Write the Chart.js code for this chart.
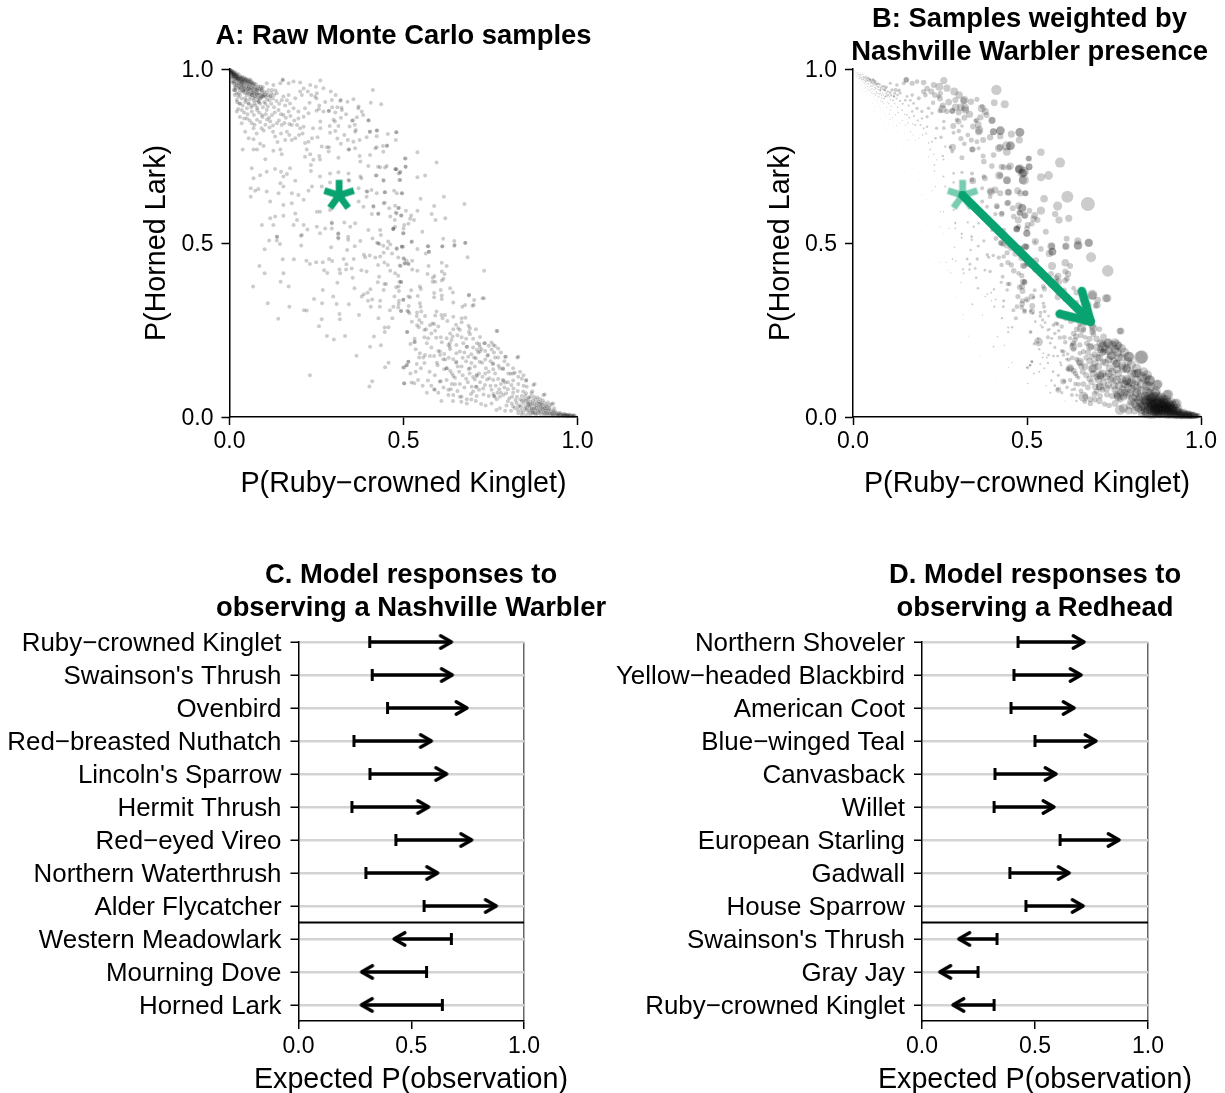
<!DOCTYPE html>
<html>
<head>
<meta charset="utf-8">
<script src="https://cdn.jsdelivr.net/npm/chart.js@4/dist/chart.umd.js"></script>
<style>
html, body { margin: 0; background: #fff; overflow: hidden; }
#page { position: relative; width: 1225px; height: 1093px; overflow: hidden; }
canvas { position: absolute; }
</style>
</head>
<body>
<div id="page">
  <canvas id="panelA"></canvas>
  <canvas id="panelB"></canvas>
  <canvas id="panelC"></canvas>
  <canvas id="panelD"></canvas>
</div>
<script>
// each sample: P(Ruby-crowned Kinglet), P(Horned Lark), Nashville Warbler weight
const samplesCorner = [
[.003,.997,3],[.006,.992,3],[.01,.99,4],[.012,.985,4],[.015,.985,5],[.02,.98,5],[.006,.985,3],[.01,.975,3],[.015,.972,4],[.018,.965,3],
[.022,.975,6],[.025,.968,5],[.028,.96,4],[.03,.97,7],[.035,.962,6],[.038,.955,5],[.04,.965,8],[.045,.958,7],[.048,.948,5],[.05,.96,8],
[.055,.95,7],[.058,.942,5],[.06,.955,9],[.065,.945,8],[.068,.935,5],[.07,.95,10],[.075,.94,8],[.078,.93,6],[.08,.945,11],[.085,.93,7],
[.088,.925,7],[.09,.94,12],[.095,.93,9],[.098,.92,7],[.1,.935,12],[.105,.92,8],[.01,.96,2],[.015,.95,2],[.02,.955,3],[.025,.945,3],
[.03,.94,3],[.035,.935,3],[.04,.945,4],[.045,.93,3],[.05,.925,3],[.055,.935,5],[.06,.92,4],[.065,.925,5],[.07,.91,4],[.075,.92,6],
[.08,.91,5],[.085,.905,5],[.09,.915,7],[.1,.905,6],[.012,.94,2],[.02,.93,2],[.025,.92,2],[.035,.915,2],[.045,.905,2],[.055,.9,3],
[.065,.895,3],[.075,.895,4],[.11,.925,12],[.115,.91,9],[.12,.93,15],[.125,.915,10],[.004,.99,3],[.008,.98,3],[.012,.992,4],[.018,.978,5],
[.024,.972,5],[.032,.958,5],[.036,.972,8],[.042,.95,5],[.052,.942,6],[.062,.94,7],[.072,.93,7],[.082,.925,8],[.092,.92,8],[.016,.94,2],
[.004,.994,3],[.007,.988,3],[.011,.982,4],[.014,.978,4],[.017,.984,5],[.02,.972,5],[.023,.982,6],[.026,.97,6],[.03,.975,7],[.033,.975,8],
[.036,.965,7],[.04,.972,9],[.043,.968,9],[.047,.972,11],[.05,.968,11],[.054,.962,10],[.057,.97,13],[.06,.962,11],[.064,.965,13],[.068,.958,12]
];
const samplesCoreExtra = [
[.002,.995,3],[.005,.99,3],[.007,.995,3],[.009,.985,3],[.011,.978,3],[.013,.988,4],[.016,.98,4],[.017,.99,5],[.019,.972,4],[.021,.985,6],
[.023,.978,5],[.026,.975,6],[.027,.985,8],[.029,.965,5],[.031,.978,7],[.033,.968,6],[.034,.955,4],[.037,.978,10],[.039,.968,7],[.041,.958,6],
[.043,.975,11],[.046,.965,8],[.049,.97,12],[.051,.952,7],[.053,.965,10],[.056,.958,9],[.059,.968,13],[.061,.948,7],[.063,.96,11],[.066,.955,10],
[.069,.942,7],[.071,.958,12],[.074,.948,9],[.076,.956,13],[.079,.938,8],[.083,.95,12],[.086,.942,10],[.089,.95,14],[.093,.938,11],[.096,.948,15],
[.005,.975,2],[.008,.965,2],[.012,.965,3],[.014,.958,3],[.018,.948,3],[.022,.958,4],[.026,.952,4],[.029,.948,4],[.033,.945,4],[.036,.948,5],
[.04,.938,4],[.044,.942,5],[.047,.938,5],[.052,.932,5],[.057,.928,5],[.062,.93,6],[.067,.932,6],[.072,.922,6],[.077,.928,7],[.082,.918,6],
[.087,.915,7],[.094,.922,9],[.102,.925,10],[.107,.932,14],[.112,.94,17],[.118,.922,12],[.122,.94,19],[.128,.925,13],[.132,.938,20],[.108,.912,8]
];
const samplesCloudExtra = [
[.015,.925,1],[.022,.905,1],[.03,.925,2],[.038,.895,2],[.048,.91,2],[.058,.912,3],[.062,.89,3],[.072,.902,4],[.08,.888,3],[.088,.9,5],
[.096,.89,5],[.103,.9,7],[.11,.892,7],[.12,.9,8],[.128,.89,8],[.135,.908,11],[.143,.9,11],[.15,.91,13],[.16,.895,11],[.165,.91,14],
[.025,.885,1],[.042,.875,2],[.052,.87,2],[.07,.868,3],[.085,.875,3],[.095,.862,4],[.104,.87,5],[.114,.86,5],[.13,.875,7],[.148,.87,8],
[.162,.86,9],[.175,.865,11],[.042,.858,1],[.058,.852,2],[.072,.84,2],[.088,.848,3],[.108,.855,5],[.125,.838,5],[.142,.852,6],[.158,.845,7],
[.172,.842,8],[.186,.852,11],[.03,.862,1],[.028,.9,1],[.115,.832,3],[.092,.83,3],[.125,.82,3],[.078,.815,2],[.148,.815,4],[.172,.81,5],
[.138,.79,3],[.2,.81,8],[.21,.815,9],[.24,.83,16],[.25,.88,26],[.258,.895,30],[.275,.905,34],[.295,.89,38],[.31,.89,38],[.32,.86,30],
[.335,.87,36],[.345,.835,30],[.36,.84,34],[.31,.8,26],[.32,.785,24],[.25,.915,30],[.225,.935,30],[.235,.925,28],[.27,.945,36],[.305,.925,38]
];
const samplesUpper = [
[.016,.94,2],[.026,.93,2],[.04,.935,3],[.055,.944,6],[.064,.925,5],[.079,.94,9],[.093,.944,12],[.107,.959,16],[.126,.954,18],[.146,.959,20],
[.153,.97,28],[.153,.968,26],[.17,.959,26],[.184,.964,24],[.203,.961,28],[.203,.935,26],[.213,.944,28],[.251,.93,26],[.246,.921,22],[.021,.911,2],
[.031,.901,2],[.045,.916,3],[.055,.901,3],[.069,.916,4],[.083,.906,5],[.098,.925,9],[.117,.921,11],[.136,.93,14],[.155,.921,14],[.17,.925,18],
[.174,.901,14],[.189,.916,20],[.208,.925,24],[.23,.903,22],[.217,.887,18],[.227,.873,16],[.021,.878,1],[.035,.882,2],[.05,.887,2],[.064,.878,3],
[.079,.882,3],[.093,.868,4],[.107,.882,6],[.122,.868,6],[.141,.882,9],[.155,.868,9],[.17,.878,12],[.184,.887,16],[.198,.878,16],[.213,.863,16],
[.198,.858,12],[.035,.844,1],[.05,.858,2],[.064,.844,2],[.079,.854,3],[.103,.84,3],[.117,.849,4],[.136,.844,5],[.15,.839,6],[.165,.82,6],
[.179,.839,10],[.194,.839,10],[.203,.83,10],[.189,.801,6],[.213,.834,12],[.045,.82,1],[.069,.83,2],[.098,.823,3],[.131,.806,3],[.16,.796,5],
[.179,.796,5],[.217,.787,8],[.227,.791,10],[.237,.801,13],[.253,.804,17],[.069,.798,1],[.088,.785,2],[.055,.801,1],[.261,.967,36],[.412,.94,52],
[.291,.935,40],[.248,.949,40],[.232,.954,30],[.294,.911,30],[.318,.909,34],[.339,.906,32],[.356,.913,26],[.406,.903,34],[.436,.899,40],[.27,.878,26],
[.285,.879,28],[.304,.875,30],[.323,.882,38],[.371,.892,24],[.38,.878,36],[.352,.851,22],[.366,.861,32],[.399,.852,34],[.261,.849,18],[.299,.854,24],
[.313,.836,18],[.261,.83,18],[.304,.822,22],[.289,.817,20],[.33,.81,24],[.361,.82,36],[.404,.82,34],[.423,.823,42],[.455,.813,36],[.479,.818,44],
[.34,.796,26],[.356,.791,24],[.342,.769,28],[.361,.772,20],[.374,.75,25],[.376,.734,28],[.404,.753,28],[.419,.772,38],[.441,.779,46],[.452,.779,42],
[.423,.807,32],[.394,.804,32],[.28,.775,18],[.265,.777,12],[.285,.763,20],[.258,.75,12],[.232,.755,8],[.217,.748,6],[.222,.769,9],[.241,.739,7],
[.313,.745,25],[.26,.74,11]
];
const samplesBigUpper = [
[.32,.911,40],[.257,.885,40],[.286,.88,30],[.322,.889,40],[.37,.887,40],[.384,.868,30],[.4,.853,35],[.355,.853,25],[.303,.849,30],[.363,.825,40],
[.288,.836,30],[.403,.82,35],[.424,.823,45],[.48,.818,45],[.453,.78,45],[.442,.762,40],[.423,.775,35],[.374,.796,30],[.344,.769,30],[.286,.775,35],
[.506,.743,30],[.48,.712,50],[.491,.705,50],[.506,.719,35],[.491,.681,50],[.42,.694,40],[.442,.681,40],[.447,.717,30],[.427,.719,30],[.408,.652,35],
[.396,.648,40],[.446,.646,35],[.473,.65,35],[.496,.643,30],[.485,.6,45],[.494,.58,35],[.499,.528,35],[.47,.54,35],[.475,.566,35],[.48,.585,30],
[.427,.583,30],[.446,.616,30],[.413,.606,30],[.379,.686,30],[.344,.679,35],[.427,.499,30],[.499,.489,30],[.456,.504,25],[.684,.459,50],[.647,.494,45],
[.678,.5,40],[.573,.475,40]
];
const samplesMiddle = [
[.038,.769,1],[.069,.769,2],[.079,.769,2],[.098,.779,2],[.103,.741,2],[.126,.765,3],[.146,.769,3],[.15,.755,3],[.064,.715,1],[.107,.705,2],
[.131,.713,3],[.148,.705,3],[.174,.715,4],[.165,.698,3],[.155,.691,3],[.069,.686,1],[.088,.695,1],[.189,.679,4],[.146,.672,2],[.061,.657,1],
[.083,.655,1],[.107,.648,2],[.074,.65,1],[.061,.633,1],[.117,.619,2],[.141,.643,2],[.155,.662,3],[.179,.643,3],[.198,.638,4],[.227,.65,6],
[.237,.662,7],[.265,.662,10],[.213,.624,4],[.179,.614,3],[.155,.609,3],[.131,.576,1],[.117,.571,1],[.155,.578,2],[.189,.585,3],[.194,.566,2],
[.093,.552,1],[.126,.552,1],[.184,.552,2],[.213,.552,3],[.224,.539,3],[.251,.547,5],[.275,.542,6],[.294,.559,9],[.294,.556,9],[.294,.542,8],
[.33,.559,11],[.361,.557,13],[.347,.547,12],[.251,.59,7],[.26,.59,7],[.289,.595,10],[.342,.681,24],[.371,.657,20],[.394,.648,26],[.394,.633,24],
[.371,.619,20],[.337,.604,14],[.385,.604,20],[.414,.604,24],[.409,.583,22],[.447,.646,32],[.423,.643,30],[.481,.643,32],[.443,.614,30],[.476,.607,34],
[.428,.585,24],[.459,.6,30],[.462,.576,28],[.471,.542,30],[.471,.54,32],[.433,.537,24],[.399,.537,18],[.313,.528,8],[.313,.513,6],[.26,.528,4],
[.208,.523,2],[.136,.518,1],[.234,.707,8],[.234,.724,9],[.26,.691,10],[.289,.7,13],[.313,.703,16],[.342,.7,20],[.376,.691,24],[.399,.721,28],
[.423,.694,30],[.443,.679,36],[.433,.718,30],[.452,.721,36],[.478,.712,40],[.486,.7,44],[.289,.674,12],[.478,.796,36],[.54,.761,37],[.504,.743,28],
[.595,.731,50],[.506,.719,34],[.476,.713,38],[.49,.702,40],[.54,.689,40],[.562,.694,44],[.488,.681,40],[.495,.643,30],[.616,.633,60],[.549,.627,38],
[.675,.612,70],[.588,.606,46],[.487,.601,38],[.507,.593,28],[.54,.593,42],[.478,.588,30],[.581,.583,32],[.522,.579,34],[.493,.578,30],[.519,.57,32],
[.53,.566,30],[.592,.566,36],[.62,.571,36],[.514,.555,28],[.502,.552,30],[.5,.542,28],[.476,.547,26],[.554,.532,30],[.5,.528,36],[.614,.512,30],
[.646,.506,36],[.677,.501,42],[.646,.492,40],[.611,.49,32],[.571,.491,32],[.523,.503,16],[.495,.49,30],[.48,.485,26],[.54,.483,28]
];
const samplesLower = [
[.114,.507,1],[.137,.518,1],[.136,.507,1],[.145,.497,1],[.101,.482,1],[.205,.521,2],[.206,.493,2],[.086,.434,1],[.101,.413,1],[.153,.453,1],
[.185,.453,2],[.155,.413,1],[.147,.389,1],[.17,.375,1],[.068,.375,1],[.11,.327,1],[.172,.317,1],[.14,.282,1],[.214,.307,2],[.222,.306,2],
[.221,.449,4],[.231,.44,4],[.249,.445,5],[.268,.445,6],[.286,.454,9],[.295,.448,8],[.272,.422,5],[.281,.414,6],[.328,.454,15],[.336,.439,14],
[.357,.454,17],[.316,.424,11],[.318,.413,10],[.335,.424,12],[.351,.427,13],[.379,.422,14],[.394,.418,18],[.354,.4,13],[.31,.386,7],[.359,.37,13],
[.268,.365,3],[.298,.346,4],[.243,.339,2],[.266,.327,3],[.308,.325,4],[.343,.324,10],[.316,.296,6],[.317,.281,4],[.265,.281,2],[.257,.261,2],
[.372,.293,7],[.28,.233,2],[.3,.223,3],[.332,.233,5],[.231,.12,1],[.365,.176,4],[.404,.202,9],[.435,.206,8],[.415,.231,8],[.446,.244,12],
[.446,.257,11],[.457,.258,12],[.51,.244,20],[.457,.156,7],[.447,.143,6],[.41,.103,4],[.402,.088,2],[.502,.096,8],[.502,.142,16],[.514,.159,16],
[.509,.149,14],[.292,.488,8],[.312,.526,10],[.312,.516,9],[.341,.518,14],[.341,.509,12],[.376,.506,16],[.36,.491,14],[.338,.48,12],[.386,.466,18],
[.39,.459,16],[.403,.464,18],[.419,.458,22],[.411,.513,24],[.435,.523,30],[.424,.501,26],[.431,.497,26],[.442,.492,28],[.462,.496,30],[.454,.485,28],
[.481,.483,34],[.495,.489,36],[.467,.47,32],[.443,.472,26],[.433,.461,22],[.427,.437,22],[.445,.444,26],[.455,.437,26],[.485,.458,36],[.5,.456,32],
[.503,.442,38],[.514,.439,40],[.489,.435,32],[.462,.42,28],[.476,.413,24],[.485,.406,26],[.43,.403,20],[.426,.387,16],[.445,.382,22],[.45,.382,22],
[.488,.389,30],[.493,.387,30],[.443,.365,18],[.405,.367,12],[.397,.357,10],[.386,.353,9],[.38,.346,8],[.398,.334,8],[.41,.338,10],[.433,.334,16],
[.406,.317,11],[.432,.317,14],[.474,.346,26],[.479,.373,28],[.487,.362,30],[.486,.375,30],[.5,.338,30],[.487,.334,26],[.486,.325,28],[.471,.317,24],
[.461,.307,20],[.485,.315,24],[.493,.304,26],[.514,.303,30],[.428,.284,12],[.468,.284,20],[.514,.346,32],[.515,.319,30],
[.524,.504,36],[.57,.491,40],[.573,.475,38],[.564,.47,36],[.612,.491,36],[.502,.454,30],[.509,.449,30],[.525,.449,34],[.504,.441,30],[.514,.441,30],
[.492,.434,28],[.61,.443,38],[.572,.434,40],[.624,.434,30],[.525,.424,34],[.54,.42,30],[.61,.418,30],[.618,.411,32],[.732,.42,58],[.569,.411,30],
[.589,.405,34],[.584,.4,28],[.584,.389,26],[.591,.389,34],[.61,.392,30],[.615,.397,28],[.493,.389,26],[.547,.375,24],[.55,.368,26],[.522,.364,20],
[.607,.365,26],[.634,.37,24],[.642,.358,30],[.588,.356,24],[.588,.344,30],[.61,.349,24],[.61,.339,30],[.519,.344,16],[.541,.348,20],[.499,.336,16],
[.688,.349,42],[.703,.336,34],[.727,.341,40],[.643,.329,24],[.677,.322,30],[.669,.317,24],[.698,.32,30],[.547,.327,18],[.549,.317,20],[.493,.305,18],
[.511,.305,16],[.517,.298,14],[.539,.3,18],[.551,.303,18],[.595,.303,22],[.591,.292,20],[.538,.29,18],[.562,.29,14],[.619,.293,28],[.612,.284,28],
[.626,.276,30],[.643,.288,24],[.667,.284,30],[.678,.285,30],[.667,.272,32],[.524,.274,14],[.545,.279,16],[.552,.271,14],[.539,.264,10],[.583,.269,22],
[.576,.264,18],[.588,.267,20],[.544,.258,14],[.565,.252,12],[.591,.248,18],[.687,.262,36],[.651,.265,24],[.662,.25,28],[.634,.24,28],[.643,.252,28],
[.708,.252,28],[.767,.247,34],[.688,.245,32],[.691,.238,28],[.511,.244,10],[.56,.229,20],[.571,.226,16],[.532,.225,12],[.531,.215,18],[.567,.212,14]
];
const samplesRight = [
[.594,.228,22],[.607,.229,24],[.624,.226,22],[.641,.231,30],[.638,.221,28],[.667,.229,24],[.633,.212,28],[.629,.207,22],[.672,.212,28],[.652,.207,26],
[.634,.195,26],[.683,.202,30],[.711,.212,40],[.732,.212,44],[.718,.21,38],[.753,.214,42],[.763,.204,40],[.772,.197,44],[.724,.195,40],[.711,.193,36],
[.753,.194,44],[.662,.188,26],[.652,.183,24],[.686,.173,30],[.703,.171,34],[.72,.188,36],[.741,.176,40],[.763,.171,42],[.772,.171,40],[.792,.173,50],
[.827,.171,68],[.547,.183,10],[.562,.178,14],[.545,.171,10],[.557,.171,10],[.576,.175,14],[.588,.175,14],[.605,.188,22],[.605,.178,16],[.617,.181,18],
[.614,.166,14],[.643,.166,26],[.651,.156,30],[.596,.156,14],[.598,.149,12],[.656,.145,30],[.667,.145,34],[.687,.138,40],[.708,.169,36],[.719,.159,32],
[.705,.145,38],[.726,.156,38],[.737,.14,38],[.756,.152,40],[.773,.147,42],[.758,.137,40],[.763,.125,36],[.777,.14,44],[.786,.137,40],[.801,.125,46],
[.82,.127,44],[.83,.116,50],[.808,.124,40],[.514,.159,12],[.509,.149,10],[.499,.142,8],[.538,.152,10],[.617,.137,24],[.624,.14,28],[.634,.133,30],
[.639,.125,26],[.643,.118,22],[.648,.113,20],[.607,.103,20],[.624,.106,22],[.639,.095,22],[.648,.094,24],[.662,.095,28],[.636,.08,18],[.629,.078,14],
[.629,.063,20],[.643,.063,16],[.642,.046,12],[.667,.058,30],[.666,.044,24],[.682,.051,30],[.682,.039,26],[.609,.046,6],[.588,.08,16],[.567,.07,10],
[.502,.097,2],[.523,.099,2],[.531,.097,2],[.542,.106,3],[.694,.066,30],[.7,.073,30],[.696,.087,32],[.708,.087,34],[.717,.078,30],[.729,.082,36],
[.705,.108,38],[.711,.118,36],[.717,.125,40],[.727,.116,38],[.74,.108,34],[.734,.092,36],[.708,.046,32],[.723,.037,26],[.736,.033,28],[.753,.039,34],
[.747,.111,42],[.758,.106,44],[.772,.109,44],[.787,.104,44],[.792,.099,42],[.81,.092,46],[.816,.082,46],[.852,.104,54],[.854,.087,50],[.873,.092,50]
];
const samplesRightExtra = [
[.7,.2,36],[.715,.185,40],[.735,.19,44],[.745,.205,48],[.76,.185,44],[.78,.185,48],[.79,.16,44],[.8,.15,46],[.815,.14,46],[.735,.165,38],
[.75,.16,40],[.695,.155,36],[.68,.16,32],[.67,.17,28],[.69,.125,36],[.7,.115,34],[.68,.11,32],[.67,.12,30],[.66,.13,30],[.735,.125,38],
[.745,.13,40],[.75,.09,38],[.765,.09,42],[.78,.095,42],[.775,.08,40],[.79,.085,44],[.8,.1,46],[.815,.105,48],[.83,.095,48],[.84,.11,52],
[.845,.12,50],[.835,.13,46],[.72,.1,34],[.73,.065,30],[.745,.06,32],[.76,.06,36],[.77,.07,38],[.78,.07,40],[.71,.06,28],[.695,.05,28]
];
const samplesBigLower = [
[.688,.351,50],[.731,.341,40],[.702,.322,35],[.533,.216,45],[.77,.247,35],[.83,.173,65],[.794,.173,50],[.734,.212,50],[.758,.207,50],[.743,.178,50],
[.691,.14,45],[.624,.14,40],[.657,.255,45],[.691,.255,40],[.609,.293,40],[.633,.202,40],[.681,.202,40],[.719,.202,50],[.652,.159,40],[.815,.125,45],
[.853,.106,50],[.877,.095,45],[.906,.065,50],[.93,.039,50],[.767,.02,50],[.662,.058,50],[.604,.102,30],[.59,.078,30],[.71,.121,45],[.786,.106,50],
[.762,.058,45],[.786,.14,45],[.758,.154,40],[.71,.087,40],
[.52,.21,14],[.535,.195,12],[.55,.14,10],[.56,.155,12],[.575,.13,14],[.59,.12,16],[.57,.105,12],[.555,.09,8],[.58,.09,14],[.6,.07,16],
[.615,.085,18],[.655,.075,24],[.675,.085,28],[.685,.1,30],[.61,.215,22],[.58,.2,16],[.6,.19,20],[.62,.165,22],[.63,.17,24],[.675,.185,30],
[.695,.18,32],[.655,.235,28],[.68,.225,30],[.7,.225,32],[.72,.23,34],[.56,.25,14],[.58,.24,18],[.6,.26,22],[.52,.125,10],[.535,.13,10]
];
const samplesTail = [
[.844,.073,46],[.852,.068,46],[.868,.068,50],[.902,.063,50],[.892,.051,50],[.926,.037,48],[.933,.025,46],[.753,.078,36],[.758,.066,36],[.768,.051,34],
[.777,.058,38],[.787,.063,40],[.795,.068,42],[.804,.054,44],[.812,.058,44],[.822,.049,46],[.826,.058,46],[.84,.046,48],[.835,.034,46],[.811,.039,46],
[.796,.033,40],[.777,.025,46],[.792,.018,38],[.809,.018,38],[.83,.011,40],[.859,.034,50],[.868,.025,50],[.878,.02,50],[.888,.015,48],[.854,.02,46],
[.844,.013,44],[.897,.025,50],[.902,.015,48],[.911,.012,46],[.921,.011,46],[.926,.009,44],[.941,.006,42],[.96,.006,40],[.978,.004,36],[.993,.003,26],
[.888,.03,50],[.906,.025,50],[.892,.02,48],[.916,.018,48],[.873,.011,44],[.859,.012,44],[.933,.011,46],[.95,.007,42],[.969,.005,38],[.846,.05,48],
[.856,.042,50],[.866,.036,50],[.876,.03,50],[.884,.04,52],[.86,.056,50],[.872,.048,50],[.838,.028,46],[.848,.022,46],[.83,.03,44],[.82,.026,42],
[.87,.016,46],[.88,.008,42],[.894,.008,42],[.904,.006,40],[.914,.005,38],[.93,.004,36],[.945,.003,34],[.958,.003,34],[.97,.002,30],[.985,.002,26],
[.898,.036,52],[.91,.034,50],[.92,.026,48],[.93,.018,44],[.94,.012,42],[.95,.012,42],[.962,.009,38],[.975,.007,34],[.99,.005,24],[.864,.006,40],
[.852,.005,38],[.84,.007,38],[.9,.048,50],[.915,.042,46],[.885,.056,50],[.87,.074,50],[.845,.09,50],[.828,.075,46],[.815,.07,46],[.8,.08,44]
];
const samplesTailExtra = [
[.85,.03,50],[.855,.026,50],[.862,.03,52],[.868,.022,52],[.875,.024,52],[.882,.026,52],[.886,.02,50],[.893,.03,52],[.9,.022,50],[.908,.018,48],
[.845,.04,50],[.852,.048,52],[.858,.038,52],[.864,.044,52],[.87,.038,54],[.876,.04,54],[.882,.034,52],[.888,.044,54],[.895,.04,54],[.902,.03,50],
[.91,.024,48],[.918,.022,46],[.925,.016,44],[.935,.016,42],[.945,.01,40],[.955,.008,38],[.965,.007,36],[.97,.006,34],[.98,.005,32],[.985,.004,28],
[.862,.018,48],[.87,.012,46],[.878,.012,46],[.885,.01,44],[.895,.014,46],[.905,.01,44],[.915,.01,44],[.925,.006,40],[.935,.006,38],[.945,.005,36],
[.955,.005,34],[.965,.004,32],[.975,.003,30],[.988,.003,24],[.828,.02,40],[.838,.018,42],[.815,.03,42],[.825,.04,44],[.835,.05,46],[.84,.06,46],
[.85,.06,48],[.858,.052,50],[.865,.058,50],[.875,.058,50],[.88,.05,50],[.892,.038,52],[.905,.04,50],[.912,.03,48],[.92,.034,46],[.8,.045,42]
];

const lineX = [.315];
const lineY = [.637];
const movedX = [.683];
const movedY = [.274];

const xTitle = 'P(Ruby\u2212crowned Kinglet)';
const yTitle = 'P(Horned Lark)';
const rowTitle = 'Expected P(observation)';

const nashvilleSpecies = ['Ruby\u2212crowned Kinglet', "Swainson's Thrush", 'Ovenbird', 'Red\u2212breasted Nuthatch', "Lincoln's Sparrow", 'Hermit Thrush', 'Red\u2212eyed Vireo', 'Northern Waterthrush', 'Alder Flycatcher', 'Western Meadowlark', 'Mourning Dove', 'Horned Lark'];
const nashvilleBefore = [.316, .327, .395, .246, .317, .237, .432, .299, .557, .678, .568, .638];
const nashvilleAfter = [.678, .682, .747, .589, .657, .577, .768, .617, .877, .424, .28, .279];

const redheadSpecies = ['Northern Shoveler', 'Yellow\u2212headed Blackbird', 'American Coot', 'Blue\u2212winged Teal', 'Canvasback', 'Willet', 'European Starling', 'Gadwall', 'House Sparrow', "Swainson's Thrush", 'Gray Jay', 'Ruby\u2212crowned Kinglet'];
const redheadBefore = [.425, .407, .394, .5, .323, .319, .611, .389, .46, .332, .248, .319];
const redheadAfter = [.717, .704, .673, .77, .593, .584, .872, .651, .713, .163, .079, .137];

const splitRow = 8.5;
const lastRowEdge = 11.485;

const samples = [...samplesCorner, ...samplesCoreExtra, ...samplesCloudExtra, ...samplesUpper, ...samplesBigUpper, ...samplesMiddle, ...samplesLower, ...samplesRight, ...samplesRightExtra, ...samplesBigLower, ...samplesTail, ...samplesTailExtra];

const FONT = '"Liberation Sans", Arial, sans-serif';
const GREEN = '#09a271';
const tickFont = { family: FONT, size: 23 };
const axisTitleFont = { family: FONT, size: 28.7, lineHeight: 1.2 };
const panelTitleFont = { family: FONT, size: 27.4, weight: 'bold', lineHeight: 33 / 27.4 };

// chevron whose tip sits at the canvas centre, so it lands on the data point
function arrowHead(arm, spreadDeg, width, color) {
    const size = Math.ceil(2 * (arm + width));
    const c = document.createElement('canvas');
    c.width = c.height = size;
    const g = c.getContext('2d');
    const a = spreadDeg * Math.PI / 180;
    g.translate(size / 2, size / 2);
    g.strokeStyle = color;
    g.lineWidth = width;
    g.lineCap = 'round';
    g.lineJoin = 'round';
    g.beginPath();
    g.moveTo(-Math.cos(a) * arm, -Math.sin(a) * arm);
    g.lineTo(0, 0);
    g.lineTo(-Math.cos(a) * arm, Math.sin(a) * arm);
    g.stroke();
    return c;
}

function asterisk(alpha) {
    const c = document.createElement('canvas');
    c.width = c.height = 40;
    const g = c.getContext('2d');
    g.translate(20, 20);
    g.globalAlpha = alpha;
    g.fillStyle = GREEN;
    for (let i = 0; i < 5; i++) {
        g.fillRect(-3.4, -15.5, 6.8, 15.5);
        g.rotate(Math.PI * 2 / 5);
    }
    return c;
}

const smallHead = arrowHead(12.5, 30, 3.4, '#000');
const bigHead = arrowHead(32, 30, 8.5, GREEN);

function unitAxis(title, padding, extra) {
    return Object.assign({
        type: 'linear',
        min: 0,
        max: 1,
        border: { color: '#000', width: 1.5 },
        grid: { drawOnChartArea: false, tickLength: 8, tickColor: '#000', tickWidth: 1.5 },
        ticks: { stepSize: 0.5, padding: padding, color: '#000', font: tickFont, maxRotation: 0, callback: v => v.toFixed(1) },
        title: { display: !!title, text: title, color: '#000', font: axisTitleFont, padding: 0 }
    }, extra);
}

function spacerAxis(width) {
    return {
        position: 'right',
        afterFit: s => { s.width = width; },
        ticks: { display: false },
        grid: { display: false },
        border: { display: false }
    };
}

function makeChart(id, box, title, titlePad, datasets, scales, bottomTitle) {
    const canvas = document.getElementById(id);
    canvas.width = box.width;
    canvas.height = box.height;
    canvas.style.left = box.left + 'px';
    canvas.style.top = box.top + 'px';
    return new Chart(canvas, {
        type: 'scatter',
        data: { datasets: datasets },
        options: {
            responsive: false,
            animation: false,
            events: [],
            layout: { padding: 0 },
            plugins: {
                legend: { display: false },
                tooltip: { enabled: false },
                title: { display: true, text: title, color: '#000', font: panelTitleFont, padding: titlePad },
                // the x title is wider than panels C and D, a scale title would get squeezed
                subtitle: { display: !!bottomTitle, position: 'bottom', text: bottomTitle, color: '#000', font: axisTitleFont, padding: 0 }
            },
            scales: scales
        }
    });
}

function sampleAxes(leftW, rightW, bottomH) {
    return {
        x: unitAxis(xTitle, 3, { position: 'bottom', afterFit: s => { s.height = bottomH; } }),
        y: unitAxis(yTitle, 8, {
            position: 'left',
            afterFit: s => { s.width = leftW; },
            ticks: { stepSize: 0.5, padding: 8, labelOffset: 2, color: '#000', font: tickFont, callback: v => v.toFixed(1) }
        }),
        spacer: spacerAxis(rightW)
    };
}

function moveArrow(species, before, after) {
    return species.map((name, i) => ({
        label: name,
        data: [{ x: before[i], y: i }, { x: after[i], y: i }],
        showLine: true,
        borderColor: '#000',
        borderWidth: 3.4,
        pointStyle: ['line', smallHead],
        pointRotation: [90, after[i] > before[i] ? 0 : 180],
        pointRadius: [6, 1],
        pointBorderWidth: [3, 0],
        pointBorderColor: '#000',
        clip: false,
        order: 0
    }));
}

function rowAxes(species, leftW, rightW, bottomH) {
    return {
        x: unitAxis('', 4, {
            position: 'bottom',
            afterFit: s => { s.height = bottomH; },
            grid: {
                drawOnChartArea: true,
                tickLength: 8,
                tickColor: '#000',
                tickWidth: 1.5,
                lineWidth: 1.5,
                color: c => (c.tick && c.tick.value === 1 ? '#666' : 'transparent')
            }
        }),
        y: {
            type: 'linear',
            position: 'left',
            reverse: true,
            min: 0,
            max: lastRowEdge,
            afterFit: s => { s.width = leftW; },
            border: { color: '#000', width: 1.5 },
            grid: { color: '#d3d3d3', lineWidth: 2.5, tickColor: '#000', tickWidth: 1.5, tickLength: 8 },
            ticks: {
                stepSize: 1,
                includeBounds: false,
                autoSkip: false,
                padding: 9,
                labelOffset: 2,
                color: '#000',
                font: { family: FONT, size: 25.9 },
                callback: v => species[v]
            }
        },
        spacer: spacerAxis(rightW)
    };
}

const splitLine = {
    data: [{ x: 0, y: splitRow }, { x: 1, y: splitRow }],
    showLine: true,
    borderColor: '#000',
    borderWidth: 2,
    pointRadius: 0,
    order: 1
};

makeChart('panelA', { left: 140, top: 0, width: 527, height: 501 },
    'A: Raw Monte Carlo samples', { top: 19.5, bottom: 16.5 },
    [
        { data: lineX.map((x, i) => ({ x: x, y: lineY[i] })), pointStyle: asterisk(1), pointRadius: 1, clip: false, order: 0 },
        {
            data: samples.map(s => ({ x: s[0], y: s[1] })),
            backgroundColor: 'rgba(0,0,0,0.2)',
            pointRadius: 2,
            pointBorderWidth: 0,
            clip: false,
            order: 2
        }
    ],
    sampleAxes(89.5, 89.5, 84));

makeChart('panelB', { left: 764, top: 0, width: 531, height: 501 },
    ['B: Samples weighted by', 'Nashville Warbler presence'], { top: 3, bottom: 0 },
    [
        {
            data: [{ x: lineX[0], y: lineY[0] }, { x: movedX[0], y: movedY[0] }],
            showLine: true,
            borderColor: GREEN,
            borderWidth: 8.5,
            borderCapStyle: 'round',
            pointStyle: [false, bigHead],
            pointRotation: [0, 44],
            pointRadius: [0, 1],
            pointBorderWidth: 0,
            clip: false,
            order: 0
        },
        { data: lineX.map((x, i) => ({ x: x, y: lineY[i] })), pointStyle: asterisk(0.55), pointRadius: 1, clip: false, order: 1 },
        {
            data: samples.map(s => ({ x: s[0], y: s[1] })),
            backgroundColor: 'rgba(0,0,0,0.2)',
            pointRadius: c => samples[c.dataIndex][2] / 10,
            pointBorderWidth: 0,
            clip: false,
            order: 2
        }
    ],
    sampleAxes(89, 94, 84));

makeChart('panelC', { left: 0, top: 540, width: 822, height: 557 },
    ['C. Model responses to', 'observing a Nashville Warbler'], { top: 18.5, bottom: 17.5 },
    [...moveArrow(nashvilleSpecies, nashvilleBefore, nashvilleAfter), splitLine],
    rowAxes(nashvilleSpecies, 298.5, 298, 41.56), rowTitle);

makeChart('panelD', { left: 600, top: 540, width: 870, height: 557 },
    ['D. Model responses to', 'observing a Redhead'], { top: 18.5, bottom: 17.5 },
    [...moveArrow(redheadSpecies, redheadBefore, redheadAfter), splitLine],
    rowAxes(redheadSpecies, 322, 322, 41.56), rowTitle);
</script>
</body>
</html>
